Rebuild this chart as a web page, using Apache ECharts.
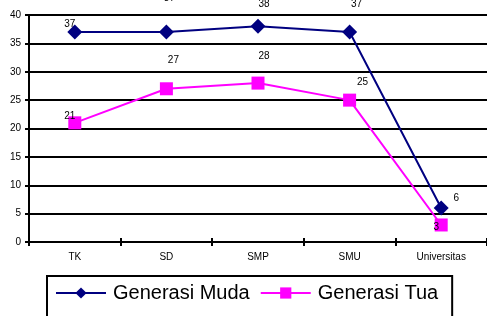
<!DOCTYPE html>
<html>
<head>
<meta charset="utf-8">
<script src="https://cdn.jsdelivr.net/npm/echarts@6/dist/echarts.min.js"></script>
<style>
html,body{margin:0;padding:0;background:#fff}
#main{width:487px;height:316px}
</style>
</head>
<body>
<div id="main"></div>
<script>
const categories=['TK','SD','SMP','SMU','Universitas']
const muda=[37,37,38,37,6]
const tua=[21,27,28,25,3]
const yTicks=[0,5,10,15,20,25,30,35,40]

// label placement, like the original sheet (relative to the point)
const mudaLabelOffsets=[[-5,-8],[3,-34],[6,-22],[7,-28],[15,-10]]
const tuaLabelOffsets=[[-5,-7],[7,-29],[6,-27],[13,-18],[-5,2]]

const chartDom=document.getElementById('main')
let myChart=echarts.init(chartDom)
let option;

function labelled(values,offsets){
    return values.map((v,i)=>({
        value:v,
        label:{offset:offsets[i]}
    }))
}

option={
    animation:false,
    textStyle:{fontFamily:'Liberation Sans, Arial, sans-serif'},
    grid:{left:29,top:15,width:464,bottom:74},
    xAxis:[{
        type:'category',
        data:categories,
        boundaryGap:true,
        axisLine:{lineStyle:{color:'#000',width:2}},
        axisTick:{show:true,length:4,lineStyle:{color:'#000',width:2}},
        axisLabel:{color:'#000',fontSize:10,margin:10}
    },{
        type:'category',
        data:categories,
        position:'bottom',
        boundaryGap:true,
        axisLine:{show:false},
        axisTick:{show:true,inside:true,length:4,lineStyle:{color:'#000',width:2}},
        axisLabel:{show:false}
    }],
    yAxis:{
        type:'value',
        min:yTicks[0],
        max:yTicks[yTicks.length-1],
        interval:5,
        axisLine:{show:true,lineStyle:{color:'#000',width:2}},
        axisTick:{show:true,length:4,lineStyle:{color:'#000',width:2}},
        axisLabel:{color:'#000',fontSize:10,margin:8},
        splitLine:{lineStyle:{color:'#000',width:2}}
    },
    legend:{
        left:47,
        top:276,
        itemWidth:50,
        itemHeight:14,
        itemGap:10,
        padding:[7,14,14,8],
        borderColor:'#000',
        borderWidth:2,
        textStyle:{fontSize:20,color:'#000',padding:[2,0,0,2],fontFamily:'Liberation Sans, Arial, sans-serif'},
        data:['Generasi Muda','Generasi Tua']
    },
    series:[{
        name:'Generasi Tua',
        type:'line',
        data:labelled(tua,tuaLabelOffsets),
        symbol:'rect',
        symbolSize:13,
        itemStyle:{color:'#ff00ff'},
        lineStyle:{color:'#ff00ff',width:2},
        label:{show:true,position:'inside',color:'#000',fontSize:10}
    },{
        name:'Generasi Muda',
        type:'line',
        data:labelled(muda,mudaLabelOffsets),
        symbol:'diamond',
        symbolSize:15,
        itemStyle:{color:'#000080'},
        lineStyle:{color:'#000080',width:2},
        label:{show:true,position:'inside',color:'#000',fontSize:10}
    }]
}

option && myChart.setOption(option);
</script>
</body>
</html>
